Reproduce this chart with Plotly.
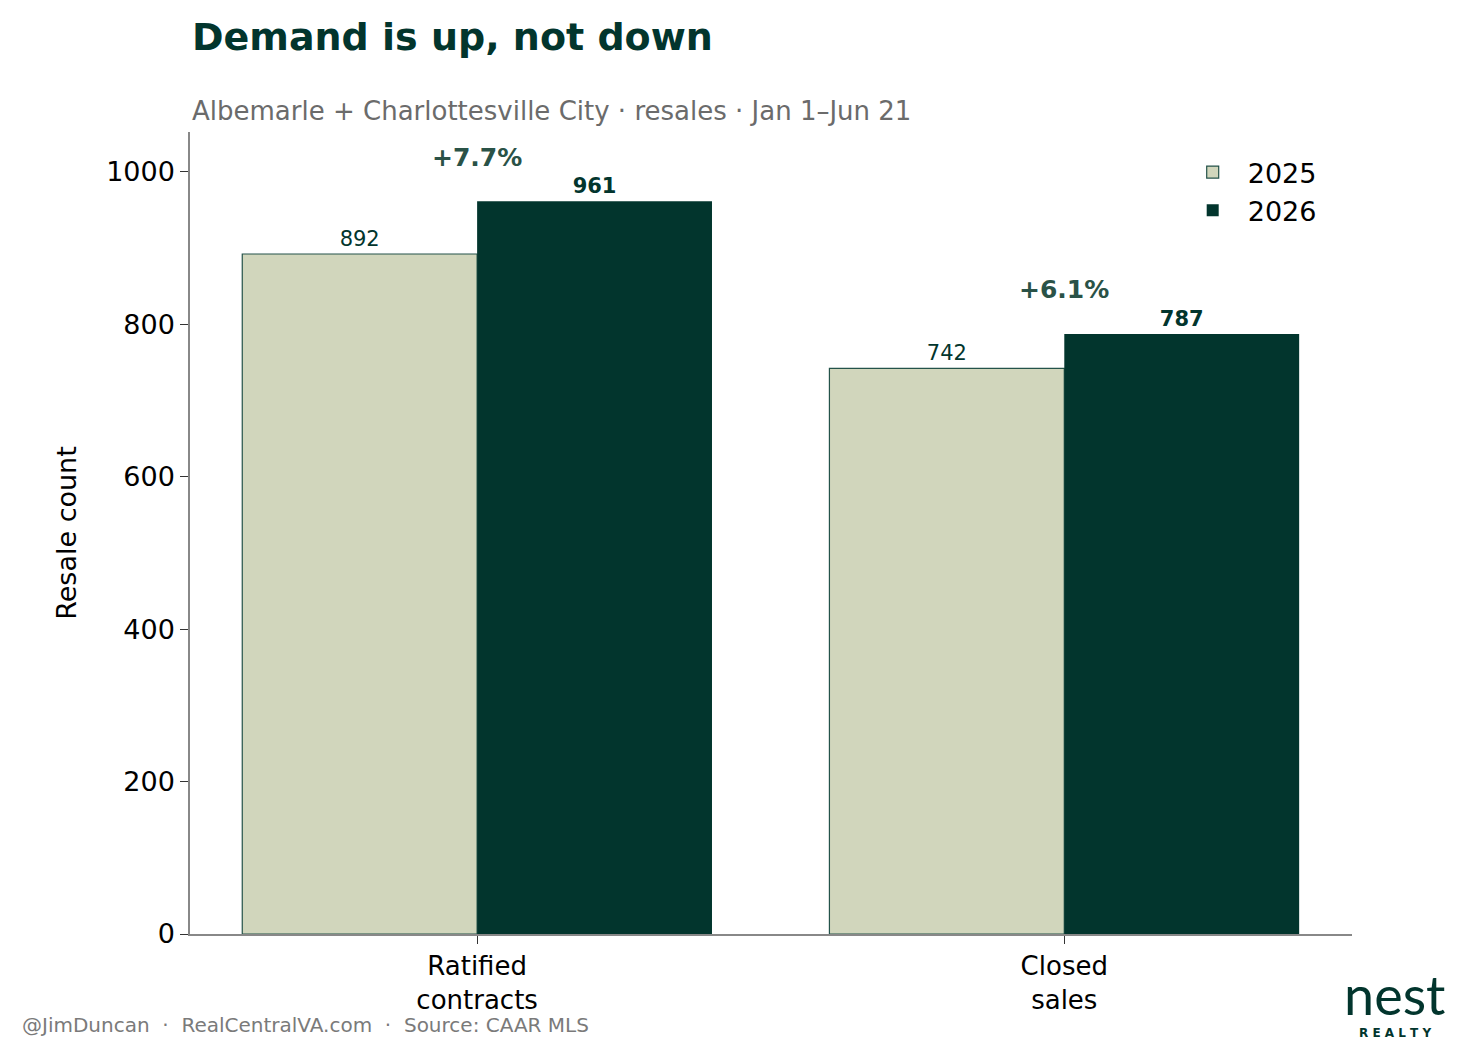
import plotly.graph_objects as go

categories = ["Ratified<br>contracts", "Closed<br>sales"]
y2025 = [892, 742]
y2026 = [961, 787]
years = ["2025", "2026"]

LIGHT = "#d1d6bc"
DARK = "#02352d"
FONT = "DejaVu Sans"

xs = list(range(len(categories)))

fig = go.Figure()
fig.add_trace(go.Bar(
    x=xs, y=y2025, name=years[0], width=0.4, offset=-0.4,
    marker=dict(color=LIGHT, line=dict(color="#24534a", width=1.2)),
    text=[str(v) for v in y2025], textposition="outside", cliponaxis=False,
    textfont=dict(size=21, color=DARK, family=FONT),
))
fig.add_trace(go.Bar(
    x=xs, y=y2026, name=years[1], width=0.4, offset=0,
    marker=dict(color=DARK, line=dict(width=0)),
    text=["<b>%d</b>" % v for v in y2026], textposition="outside", cliponaxis=False,
    textfont=dict(size=21, color=DARK, family=FONT),
))

for i in xs:
    pct = (y2026[i] - y2025[i]) / y2025[i] * 100
    fig.add_annotation(x=i, y=y2026[i] + 58, text="<b>%+.1f%%</b>" % pct,
                       showarrow=False, font=dict(size=25, color="#2a5247", family=FONT))

fig.add_annotation(xref="paper", yref="paper", x=0, y=1.118, xanchor="left", yanchor="middle",
                   text="<b>Demand is up, not down</b>", showarrow=False,
                   font=dict(size=38, color=DARK, family=FONT))
fig.add_annotation(xref="paper", yref="paper", x=0, y=1.026, xanchor="left", yanchor="middle",
                   text="Albemarle + Charlottesville City · resales · Jan 1–Jun 21", showarrow=False,
                   font=dict(size=26, color="#6b6b6b", family=FONT))
fig.add_annotation(xref="paper", yref="paper", x=-0.146, y=-0.113, xanchor="left", yanchor="middle",
                   text="@JimDuncan  ·  RealCentralVA.com  ·  Source: CAAR MLS", showarrow=False,
                   font=dict(size=20, color="#7a7a7a", family=FONT))
fig.add_annotation(xref="paper", yref="paper", x=1.037, y=-0.076, xanchor="center", yanchor="middle",
                   text="nest", showarrow=False,
                   font=dict(size=54, color=DARK, family="Lato"))
fig.add_annotation(xref="paper", yref="paper", x=1.037, y=-0.124, xanchor="center", yanchor="middle",
                   text="<b>R E A L T Y</b>", showarrow=False,
                   font=dict(size=12, color=DARK, family=FONT))

fig.update_layout(
    width=1477, height=1056,
    margin=dict(l=182, r=133, t=124, b=130),
    plot_bgcolor="white", paper_bgcolor="white",
    font=dict(family=FONT, size=26, color="black"),
    barmode="overlay",
    showlegend=True,
    legend=dict(x=0.85, y=0.98, xanchor="left", yanchor="top", font=dict(size=27),
                bgcolor="rgba(0,0,0,0)", tracegroupgap=8, itemwidth=60),
    xaxis=dict(range=[-0.489, 1.49], tickvals=xs, ticktext=categories,
               showline=True, linecolor="#888", linewidth=1.5, ticks="outside",
               ticklen=8, tickcolor="#333", showgrid=False, zeroline=False,
               tickfont=dict(size=26)),
    yaxis=dict(range=[0, 1052], dtick=200, showline=True, linecolor="#888", linewidth=1.5,
               ticks="outside", ticklen=8, tickcolor="#333", showgrid=False, zeroline=False,
               title=dict(text="Resale count", font=dict(size=27), standoff=22),
               tickfont=dict(size=27)),
)

fig.write_html("out.html")
